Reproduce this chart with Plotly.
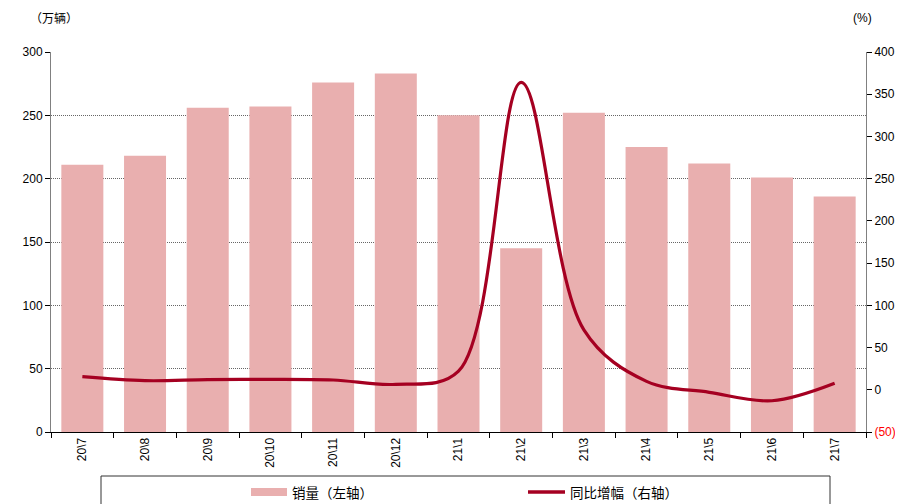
import plotly.graph_objects as go

categories = ["20\\7", "20\\8", "20\\9", "20\\10", "20\\11", "20\\12",
              "21\\1", "21\\2", "21\\3", "21\\4", "21\\5", "21\\6", "21\\7"]
sales = [211, 218, 256, 257, 276, 283, 250, 145, 252, 225, 212, 201, 186]
yoy = [15.5, 10.8, 12.0, 12.4, 11.6, 6.5, 22, 364, 71, 10, -3, -13, 7.7]

left_ticks = [0, 50, 100, 150, 200, 250, 300]
right_ticks = [-50, 0, 50, 100, 150, 200, 250, 300, 350, 400]
right_labels = ["<span style='color:#FF0000'>(50)</span>"] + [str(v) for v in right_ticks[1:]]

bar_color = "#E9AFAF"
line_color = "#A50021"
font_latin = "Liberation Sans, Arial, sans-serif"
font_cjk = "Noto Sans CJK SC, sans-serif"

fig = go.Figure()
fig.add_trace(go.Bar(x=categories, y=sales, name="销量（左轴）",
                     marker=dict(color=bar_color, line=dict(width=0)),
                     width=0.67, yaxis="y", showlegend=False))
fig.add_trace(go.Scatter(x=categories, y=yoy, name="同比增幅（右轴）", mode="lines",
                         line=dict(color=line_color, width=3.2, shape="spline", smoothing=1.0),
                         yaxis="y2", showlegend=False))

# page body has an 8px margin, so the figure is 8px smaller and shifted
fig.update_layout(
    width=895, height=496,
    margin=dict(l=43, r=37, t=44, b=72, autoexpand=False),
    plot_bgcolor="white", paper_bgcolor="white",
    font=dict(family=font_latin, size=12, color="#000"),
    xaxis=dict(type="category", showline=True, linecolor="#000", linewidth=1,
               ticks="outside", tickson="boundaries", ticklen=5, tickcolor="#000",
               tickangle=-90, tickfont=dict(size=12, family=font_latin), showgrid=False),
    yaxis=dict(range=[0, 300], tickvals=left_ticks, showline=True, linecolor="#808080",
               linewidth=1, ticks="outside", ticklen=5, tickcolor="#000",
               showgrid=True, gridcolor="#666666", griddash="1px,1px", gridwidth=1,
               zeroline=False, tickfont=dict(size=12)),
    yaxis2=dict(range=[-50, 400], tickvals=right_ticks, ticktext=right_labels,
                overlaying="y", side="right", showline=True, linecolor="#808080",
                linewidth=1, ticks="outside", ticklen=5, tickcolor="#000",
                showgrid=False, zeroline=False, tickfont=dict(size=12)),
)

# screen pixel -> paper coordinates (plot area spans x 51..866, y 52..432 on screen)
def px(x):
    return (x - 51) / (866 - 51)
def py(y):
    return (432 - y) / (432 - 52)

# axis unit labels
fig.add_annotation(text="（万辆）", xref="paper", yref="paper", x=px(54), y=py(18),
                   showarrow=False, xanchor="center", yanchor="middle",
                   font=dict(family=font_cjk, size=12))
fig.add_annotation(text="(%)", xref="paper", yref="paper", x=px(862), y=py(18),
                   showarrow=False, xanchor="center", yanchor="middle",
                   font=dict(family=font_latin, size=12))

# legend box and entries (manual)
fig.add_shape(type="rect", xref="paper", yref="paper",
              x0=px(101), x1=px(830), y0=py(515), y1=py(476),
              line=dict(color="#333", width=1), fillcolor="rgba(0,0,0,0)")
fig.add_shape(type="rect", xref="paper", yref="paper",
              x0=px(251), x1=px(287), y0=py(496), y1=py(488),
              line=dict(width=0), fillcolor=bar_color)
fig.add_annotation(text="销量（左轴）", xref="paper", yref="paper", x=px(290), y=py(492),
                   showarrow=False, xanchor="left", yanchor="middle",
                   font=dict(family=font_cjk, size=13.5))
fig.add_shape(type="line", xref="paper", yref="paper",
              x0=px(528), x1=px(565), y0=py(492), y1=py(492),
              line=dict(color=line_color, width=3.5))
fig.add_annotation(text="同比增幅（右轴）", xref="paper", yref="paper", x=px(568), y=py(492),
                   showarrow=False, xanchor="left", yanchor="middle",
                   font=dict(family=font_cjk, size=13.5))

fig.write_html("out.html")
